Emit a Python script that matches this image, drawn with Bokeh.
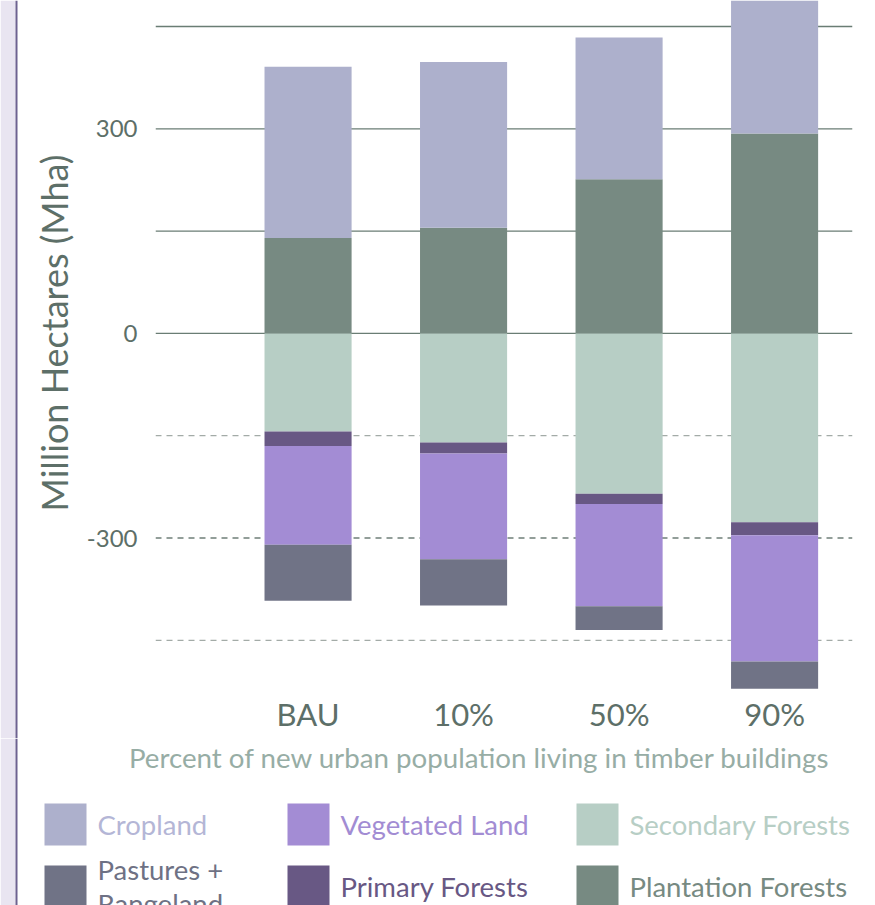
import math
from bokeh.plotting import figure
from bokeh.layouts import row, column
from bokeh.models import ColumnDataSource, Range1d, FixedTicker, Span
from bokeh.core.properties import value
from bokeh.embed import file_html
from bokeh.resources import INLINE

# ---------------- data ----------------
scenarios = ["BAU", "10%", "50%", "90%"]
cropland = [251, 243, 208, 230]
plantation = [140, 155, 226, 293]
secondary = [-144, -160, -235, -277]
primary = [-21, -16, -15, -19]
vegetated = [-145, -155, -150, -185]
pastures = [-82, -68, -35, -40]

y_ticks = [-300, 0, 300]
y_tick_labels = ["-300", "0", "300"]
grid_solid = [0, 150, 300, 450]
grid_dashed = [-150, -300, -450]

y_title = "Million Hectares (Mha)"
x_title = "Percent of new urban population living in timber buildings"
legend_names = ["Cropland", "Vegetated Land", "Secondary Forests",
                "Pastures +\nRangeland", "Primary Forests", "Plantation Forests"]

# ---------------- style ----------------
FONT = "Lato"
C = {
    "cropland": "#adb0cc",
    "vegetated": "#a38cd4",
    "secondary": "#b7cec5",
    "pastures": "#707386",
    "primary": "#685884",
    "plantation": "#778a82",
}
legend_keys = ["cropland", "vegetated", "secondary", "pastures", "primary", "plantation"]
legend_text_colors = ["#b4b6d6", "#a28cd3", "#b7cec5", "#6e7184", "#685884", "#778a82"]
TXT = "#5d6f68"
BAND = "#e9e5f1"
BAND_LINE = "#6d6290"

TOP_H = 738
W_LEFT = 77
W_MAIN = 875 - W_LEFT
LEG_H = 905 - TOP_H


def bare(fig):
    fig.frame_align = False
    fig.outline_line_color = None
    fig.xgrid.visible = False
    fig.ygrid.visible = False
    fig.background_fill_color = "white"
    fig.border_fill_color = "white"


def add_band(fig, height):
    fig.quad(left=[0, 15], right=[15, 17], top=[0, 0], bottom=[height, height],
             fill_color=[BAND, BAND_LINE], line_color=None)


# ---------------- left strip with the y title ----------------
left = figure(width=W_LEFT, height=TOP_H, x_range=Range1d(0, W_LEFT), y_range=Range1d(TOP_H, 0),
              output_backend="svg", toolbar_location=None,
              x_axis_type=None, y_axis_type=None, min_border=0)
bare(left)
add_band(left, TOP_H)
left.text(x=[53.5], y=[332.5], text=[y_title], angle=math.pi / 2,
          text_font=value(FONT), text_font_size="36px", text_color=TXT,
          text_align="center", text_baseline="middle")

# ---------------- main chart ----------------
xs = list(range(1, len(scenarios) + 1))
src = ColumnDataSource(dict(x=xs, cropland=cropland, plantation=plantation,
                            secondary=secondary, primary=primary,
                            vegetated=vegetated, pastures=pastures))

p = figure(width=W_MAIN, height=TOP_H,
           x_range=Range1d(0.019, 4.501), y_range=Range1d(-526.5, 488.1),
           output_backend="svg", toolbar_location=None,
           min_border_left=78, min_border_right=23,
           min_border_top=0, min_border_bottom=46)
bare(p)

for g in grid_solid:
    p.add_layout(Span(location=g, dimension="width", line_color="#6a7d74",
                      line_width=1.3, level="underlay"))
for g in grid_dashed:
    col = "#6f7f78" if g == -300 else "#a3aba7"
    p.add_layout(Span(location=g, dimension="width", line_color=col,
                      line_width=1.3, line_dash="6 5", level="underlay"))

p.vbar_stack(["plantation", "cropland"], x="x", width=0.56, source=src,
             fill_color=[C["plantation"], C["cropland"]], line_color=None)
p.vbar_stack(["secondary", "primary", "vegetated", "pastures"], x="x", width=0.56,
             source=src,
             fill_color=[C["secondary"], C["primary"], C["vegetated"], C["pastures"]],
             line_color=None)

# y axis
p.yaxis.ticker = FixedTicker(ticks=y_ticks)
p.yaxis.major_label_overrides = {t: s for t, s in zip(y_ticks, y_tick_labels)}
p.yaxis.axis_line_color = None
p.yaxis.major_tick_line_color = None
p.yaxis.minor_tick_line_color = None
p.yaxis.major_tick_out = 0
p.yaxis.minor_tick_out = 0
p.yaxis.major_label_text_font = FONT
p.yaxis.major_label_text_font_size = "24px"
p.yaxis.major_label_text_color = TXT
p.yaxis.major_label_standoff = 18

# x axis
p.xaxis.ticker = FixedTicker(ticks=xs)
p.xaxis.major_label_overrides = {x: s for x, s in zip(xs, scenarios)}
p.xaxis.axis_line_color = None
p.xaxis.major_tick_line_color = None
p.xaxis.minor_tick_line_color = None
p.xaxis.major_tick_out = 0
p.xaxis.minor_tick_out = 0
p.xaxis.major_label_text_font = FONT
p.xaxis.major_label_text_font_size = "31px"
p.xaxis.major_label_text_color = TXT
p.xaxis.major_label_standoff = 2

# ---------------- bottom panel: x title + legend ----------------
leg = figure(width=875, height=LEG_H, x_range=Range1d(0, 875), y_range=Range1d(LEG_H, 0),
             output_backend="svg", toolbar_location=None,
             x_axis_type=None, y_axis_type=None, min_border=0)
bare(leg)
add_band(leg, LEG_H)

leg.text(x=[479], y=[19], text=[x_title], text_font=value(FONT), text_font_size="27.7px",
         text_color="#97ada5", text_align="center", text_baseline="middle")

col_x = [44, 287, 576]
row_y = [65, 127]
sw = 42
sq = dict(left=[], right=[], top=[], bottom=[], color=[])
tx = dict(x=[], y=[], text=[], color=[])
for i, (name, key, tc) in enumerate(zip(legend_names, legend_keys, legend_text_colors)):
    c, r = i % 3, i // 3
    sq["left"].append(col_x[c]); sq["right"].append(col_x[c] + sw)
    sq["top"].append(row_y[r]); sq["bottom"].append(row_y[r] + sw)
    sq["color"].append(C[key])
    tx["x"].append(col_x[c] + sw + 11)
    tx["y"].append(row_y[r] + 21)
    tx["text"].append(name)
    tx["color"].append(tc)

leg.quad(left="left", right="right", top="top", bottom="bottom", fill_color="color",
         line_color=None, source=ColumnDataSource(sq))
leg.text(x="x", y="y", text="text", text_color="color", source=ColumnDataSource(tx),
         text_font=value(FONT), text_font_size="27.5px", text_baseline="middle",
         text_align="left", text_line_height=1.03)

layout = column(row(left, p), leg)
open("out.html", "w").write(file_html(layout, INLINE))
